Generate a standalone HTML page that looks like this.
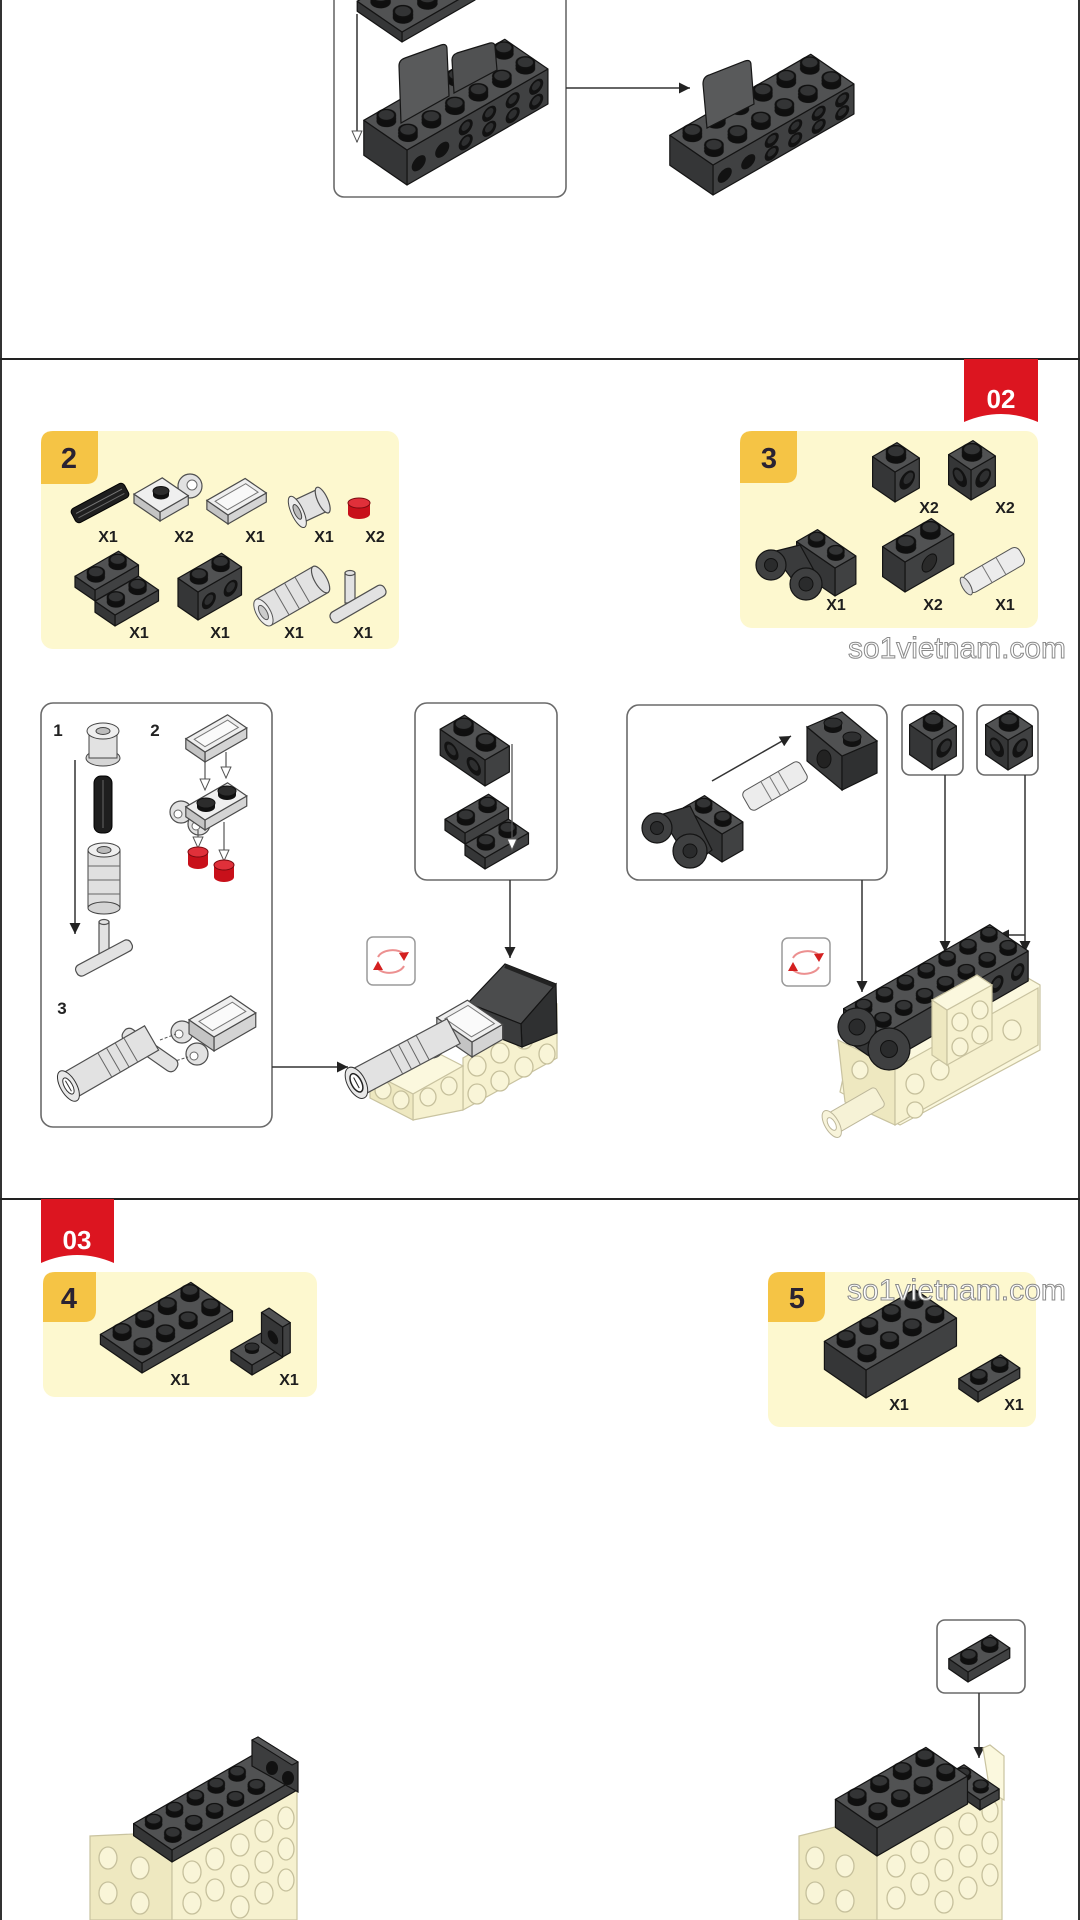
<!DOCTYPE html>
<html><head><meta charset="utf-8">
<style>
html,body{margin:0;padding:0;background:#fff;}
body{width:1080px;height:1920px;overflow:hidden;}
svg{display:block;}
rect,polygon,path,ellipse,line,circle,polyline{vector-effect:non-scaling-stroke;}
pattern *{vector-effect:none;}
.dT{fill:#515253;stroke:#141414;stroke-width:1.2;stroke-linejoin:round}
.dR{fill:#404142;stroke:#141414;stroke-width:1.2;stroke-linejoin:round}
.dL{fill:#353637;stroke:#141414;stroke-width:1.2;stroke-linejoin:round}
.gT{fill:#efefef;stroke:#4a4a4a;stroke-width:1.2}
.gR{fill:#d4d4d4;stroke:#4a4a4a;stroke-width:1.2}
.gL{fill:#c4c4c4;stroke:#4a4a4a;stroke-width:1.2}
.cT{fill:#fbf8de;stroke:#c9c3a0;stroke-width:1.2}
.cR{fill:#f6f1cf;stroke:#c9c3a0;stroke-width:1.2}
.cL{fill:#eee8c0;stroke:#c9c3a0;stroke-width:1.2}
.cs{fill:#f9f5d8;stroke:#c6c09c;stroke-width:1.3}
.box{fill:none;stroke:#6a6a6a;stroke-width:1.6}
.ln{stroke:#333;stroke-width:1.5;fill:none}
.lb{font-family:"Liberation Sans",sans-serif;font-weight:bold;font-size:16px;fill:#1e1e1e}
.num{font-family:"Liberation Sans",sans-serif;font-weight:bold;font-size:29px;fill:#2a2232}
.tab{font-family:"Liberation Sans",sans-serif;font-weight:bold;font-size:26px;fill:#fff}
.sn{font-family:"Liberation Sans",sans-serif;font-weight:bold;font-size:17px;fill:#222}
.wm{font-family:"Liberation Sans",sans-serif;font-size:30px;fill:#fff;stroke:#8a8a8a;stroke-width:1}
.ss{fill:#121212}
.si{fill:#2e2f30}
.gp{fill:#e2e2e2;stroke:#4f4f4f;stroke-width:1.2}
</style></head>
<body>
<svg width="1080" height="1920" viewBox="0 0 1080 1920" xmlns="http://www.w3.org/2000/svg">
<defs>
<pattern id="pS" patternUnits="userSpaceOnUse" width="1" height="1"><circle cx=".5" cy=".5" r=".31" fill="#0f0f0f"/></pattern>
<pattern id="pT" patternUnits="userSpaceOnUse" width="1" height="1"><circle cx=".5" cy=".5" r=".31" fill="#101010"/><circle cx=".5" cy=".5" r=".24" fill="#333435"/></pattern>
<marker id="ad" viewBox="0 0 10 10" refX="10" refY="5" markerWidth="13" markerHeight="11" markerUnits="userSpaceOnUse" orient="auto"><path d="M0,0 L10,5 L0,10 z" fill="#222"/></marker>
<marker id="aw" viewBox="0 0 10 10" refX="10" refY="5" markerWidth="13" markerHeight="11" markerUnits="userSpaceOnUse" orient="auto"><path d="M0,0.5 L10,5 L0,9.5 z" fill="#fff" stroke="#555" stroke-width="1"/></marker>
</defs>

<!-- frame -->
<line x1="1" y1="0" x2="1" y2="1920" stroke="#333" stroke-width="2"/>
<line x1="1079" y1="0" x2="1079" y2="1920" stroke="#333" stroke-width="2"/>
<line x1="0" y1="359" x2="1080" y2="359" stroke="#222" stroke-width="2"/>
<line x1="0" y1="1199" x2="1080" y2="1199" stroke="#222" stroke-width="2"/>

<!-- ================= TOP SECTION ================= -->
<rect class="box" x="334" y="-10" width="232" height="207" rx="10"/>
<g transform="translate(402 32)">
<rect class="dR" width="3" height="10" transform="matrix(24.36 -14 0 1 0 0)"/>
<rect class="dL" width="2" height="10" transform="matrix(-22.4 -15.4 0 1 0 0)"/>
<g transform="matrix(24.36 -14 -22.4 -15.4 0 0)"><rect class="dT" width="3" height="2"/><rect width="3" height="2" fill="url(#pS)"/></g>
<g transform="translate(0 -3) matrix(24.36 -14 -22.4 -15.4 0 0)"><rect width="3" height="2" fill="url(#pS)"/></g>
<g transform="translate(0 -6) matrix(24.36 -14 -22.4 -15.4 0 0)"><rect width="3" height="2" fill="url(#pT)"/></g>
</g>
<g transform="translate(407 150)">
<rect class="dR" width="6" height="35" transform="matrix(23.49 -13.5 0 1 0 0)"/>
<rect class="dL" width="2" height="35" transform="matrix(-21.6 -14.85 0 1 0 0)"/>
<g transform="matrix(23.49 -13.5 0 1 0 0)">
<ellipse class="ss" cx="2.5" cy="11" rx=".3" ry="7"/><ellipse class="ss" cx="3.5" cy="11" rx=".3" ry="7"/><ellipse class="ss" cx="4.5" cy="11" rx=".3" ry="7"/><ellipse class="ss" cx="5.5" cy="11" rx=".3" ry="7"/>
<ellipse class="ss" cx="2.5" cy="26" rx=".3" ry="7"/><ellipse class="ss" cx="3.5" cy="26" rx=".3" ry="7"/><ellipse class="ss" cx="4.5" cy="26" rx=".3" ry="7"/><ellipse class="ss" cx="5.5" cy="26" rx=".3" ry="7"/>
<ellipse class="ss" cx=".5" cy="20" rx=".3" ry="7"/><ellipse class="ss" cx="1.5" cy="20" rx=".3" ry="7"/>
<ellipse class="si" cx="2.5" cy="10" rx=".18" ry="4"/><ellipse class="si" cx="3.5" cy="10" rx=".18" ry="4"/><ellipse class="si" cx="4.5" cy="10" rx=".18" ry="4"/><ellipse class="si" cx="5.5" cy="10" rx=".18" ry="4"/>
<ellipse class="si" cx="2.5" cy="25" rx=".18" ry="4"/><ellipse class="si" cx="3.5" cy="25" rx=".18" ry="4"/><ellipse class="si" cx="4.5" cy="25" rx=".18" ry="4"/><ellipse class="si" cx="5.5" cy="25" rx=".18" ry="4"/>
</g>
<g transform="matrix(23.49 -13.5 -21.6 -14.85 0 0)"><rect class="dT" width="6" height="2"/><rect width="6" height="2" fill="url(#pS)"/></g>
<g transform="translate(0 -3) matrix(23.49 -13.5 -21.6 -14.85 0 0)"><rect width="6" height="2" fill="url(#pS)"/></g>
<g transform="translate(0 -6) matrix(23.49 -13.5 -21.6 -14.85 0 0)"><rect width="6" height="2" fill="url(#pT)"/></g>
</g>
<path d="M399,66 Q399,60 405,58 L441,45 Q447,43 447,49 L449,96 L401,123 Z" fill="#595a5b" stroke="#161616" stroke-width="1.2"/>
<path d="M452,60 Q452,55 457,53 L490,43 Q495,42 495,47 L497,70 L454,93 Z" fill="#505152" stroke="#161616" stroke-width="1.2"/>
<line class="ln" x1="357" y1="14" x2="357" y2="142" marker-end="url(#aw)"/>

<line class="ln" x1="566" y1="88" x2="690" y2="88" marker-end="url(#ad)"/>
<g transform="translate(713 165)">
<rect class="dR" width="6" height="30" transform="matrix(23.49 -13.5 0 1 0 0)"/>
<rect class="dL" width="2" height="30" transform="matrix(-21.6 -14.85 0 1 0 0)"/>
<g transform="matrix(23.49 -13.5 0 1 0 0)">
<ellipse class="ss" cx="2.5" cy="9" rx=".3" ry="6.5"/><ellipse class="ss" cx="3.5" cy="9" rx=".3" ry="6.5"/><ellipse class="ss" cx="4.5" cy="9" rx=".3" ry="6.5"/><ellipse class="ss" cx="5.5" cy="9" rx=".3" ry="6.5"/>
<ellipse class="ss" cx="2.5" cy="22" rx=".3" ry="6.5"/><ellipse class="ss" cx="3.5" cy="22" rx=".3" ry="6.5"/><ellipse class="ss" cx="4.5" cy="22" rx=".3" ry="6.5"/><ellipse class="ss" cx="5.5" cy="22" rx=".3" ry="6.5"/>
<ellipse class="ss" cx=".5" cy="17" rx=".3" ry="6.5"/><ellipse class="ss" cx="1.5" cy="17" rx=".3" ry="6.5"/>
<ellipse class="si" cx="2.5" cy="8" rx=".18" ry="3.5"/><ellipse class="si" cx="3.5" cy="8" rx=".18" ry="3.5"/><ellipse class="si" cx="4.5" cy="8" rx=".18" ry="3.5"/><ellipse class="si" cx="5.5" cy="8" rx=".18" ry="3.5"/>
<ellipse class="si" cx="2.5" cy="21" rx=".18" ry="3.5"/><ellipse class="si" cx="3.5" cy="21" rx=".18" ry="3.5"/><ellipse class="si" cx="4.5" cy="21" rx=".18" ry="3.5"/><ellipse class="si" cx="5.5" cy="21" rx=".18" ry="3.5"/>
</g>
<g transform="matrix(23.49 -13.5 -21.6 -14.85 0 0)"><rect class="dT" width="6" height="2"/><rect width="6" height="2" fill="url(#pS)"/></g>
<g transform="translate(0 -3) matrix(23.49 -13.5 -21.6 -14.85 0 0)"><rect width="6" height="2" fill="url(#pS)"/></g>
<g transform="translate(0 -6) matrix(23.49 -13.5 -21.6 -14.85 0 0)"><rect width="6" height="2" fill="url(#pT)"/></g>
</g>
<path d="M703,84 Q703,77 709,75 L745,61 Q751,59 751,65 L754,104 L707,128 Z" fill="#595a5b" stroke="#161616" stroke-width="1.2"/>

<!-- ================= MIDDLE SECTION ================= -->
<path d="M964,359 H1038 V422 Q1001,406 964,422 Z" fill="#dc1520"/>
<text class="tab" x="1001" y="408" text-anchor="middle">02</text>

<rect x="41" y="431" width="358" height="218" rx="12" fill="#fdf8cf"/>
<path d="M41,443 Q41,431 53,431 H98 V472 Q98,484 86,484 H41 Z" fill="#f5c445"/>
<text class="num" x="69" y="468" text-anchor="middle">2</text>
<g transform="translate(100 503) rotate(-28)"><rect x="-30" y="-8" width="60" height="16" rx="4" fill="#1f1f1f" stroke="#000"/><line x1="-26" y1="-2" x2="26" y2="-2" stroke="#777" stroke-width="1"/><line x1="-26" y1="3" x2="26" y2="3" stroke="#666" stroke-width="1"/></g>
<circle cx="190" cy="486" r="12" class="gp"/><circle cx="192" cy="485" r="5" fill="#fff" stroke="#666"/>
<g transform="translate(160 512)">
<rect class="gR" width="1.3" height="9" transform="matrix(21.75 -12.5 0 1 0 0)"/>
<rect class="gL" width="1.3" height="9" transform="matrix(-20 -13.75 0 1 0 0)"/>
<rect class="gT" width="1.3" height="1.3" transform="matrix(21.75 -12.5 -20 -13.75 0 0)"/>
</g>
<ellipse cx="161" cy="495" rx="8" ry="4.5" fill="#111"/><rect x="153" y="491" width="16" height="4" fill="#111"/><ellipse cx="161" cy="491" rx="8" ry="4.5" fill="#2c2c2c" stroke="#111"/>
<g transform="translate(228 515)">
<rect class="gR" width="2" height="9" transform="matrix(19.14 -11 0 1 0 0)"/>
<rect class="gL" width="1.2" height="9" transform="matrix(-17.6 -12.1 0 1 0 0)"/>
<g transform="matrix(19.14 -11 -17.6 -12.1 0 0)"><rect class="gT" width="2" height="1.2"/><rect x=".2" y=".25" width="1.6" height=".7" fill="#f8f8f8" stroke="#777" stroke-width="1"/></g>
</g>
<g transform="translate(310 506) rotate(-25)"><rect x="-14" y="-12" width="28" height="24" class="gp"/><ellipse cx="14" cy="0" rx="5" ry="14" class="gp"/><ellipse cx="-14" cy="0" rx="6" ry="17" fill="#ececec" stroke="#444"/><ellipse cx="-14" cy="0" rx="3" ry="8" fill="#bbb" stroke="#444"/></g>
<rect x="348" y="503" width="22" height="11" fill="#c8101a"/><ellipse cx="359" cy="514" rx="11" ry="5" fill="#c8101a"/><ellipse cx="359" cy="503" rx="11" ry="5" fill="#e0303a" stroke="#7a0a10"/>
<g transform="translate(95 590)">
<rect class="dR" width="2" height="11" transform="matrix(21.75 -12.5 0 1 0 0)"/>
<rect class="dL" width="1" height="11" transform="matrix(-20 -13.75 0 1 0 0)"/>
<g transform="matrix(21.75 -12.5 -20 -13.75 0 0)"><rect class="dT" width="2" height="1"/><rect width="2" height="1" fill="url(#pS)"/></g>
<g transform="translate(0 -3) matrix(21.75 -12.5 -20 -13.75 0 0)"><rect width="2" height="1" fill="url(#pS)"/></g>
<g transform="translate(0 -5) matrix(21.75 -12.5 -20 -13.75 0 0)"><rect width="2" height="1" fill="url(#pT)"/></g>
</g>
<g transform="translate(115 615)">
<rect class="dR" width="2" height="11" transform="matrix(21.75 -12.5 0 1 0 0)"/>
<rect class="dL" width="1" height="11" transform="matrix(-20 -13.75 0 1 0 0)"/>
<g transform="matrix(21.75 -12.5 -20 -13.75 0 0)"><rect class="dT" width="2" height="1"/><rect width="2" height="1" fill="url(#pS)"/></g>
<g transform="translate(0 -3) matrix(21.75 -12.5 -20 -13.75 0 0)"><rect width="2" height="1" fill="url(#pS)"/></g>
<g transform="translate(0 -5) matrix(21.75 -12.5 -20 -13.75 0 0)"><rect width="2" height="1" fill="url(#pT)"/></g>
</g>
<g transform="translate(198 592)">
<rect class="dR" width="2" height="28" transform="matrix(21.75 -12.5 0 1 0 0)"/>
<rect class="dL" width="1" height="28" transform="matrix(-20 -13.75 0 1 0 0)"/>
<g transform="matrix(21.75 -12.5 0 1 0 0)"><ellipse class="ss" cx=".5" cy="15" rx=".32" ry="7.5"/><ellipse class="ss" cx="1.5" cy="15" rx=".32" ry="7.5"/><ellipse class="si" cx=".5" cy="14" rx=".2" ry="4.5"/><ellipse class="si" cx="1.5" cy="14" rx=".2" ry="4.5"/></g>
<g transform="matrix(21.75 -12.5 -20 -13.75 0 0)"><rect class="dT" width="2" height="1"/><rect width="2" height="1" fill="url(#pS)"/></g>
<g transform="translate(0 -3) matrix(21.75 -12.5 -20 -13.75 0 0)"><rect width="2" height="1" fill="url(#pS)"/></g>
<g transform="translate(0 -5) matrix(21.75 -12.5 -20 -13.75 0 0)"><rect width="2" height="1" fill="url(#pT)"/></g>
</g>
<g transform="translate(292 596) rotate(-30)"><rect x="-33" y="-15" width="66" height="30" class="gp"/><line x1="-12" y1="-15" x2="-12" y2="15" stroke="#666"/><line x1="0" y1="-15" x2="0" y2="15" stroke="#666"/><line x1="12" y1="-15" x2="12" y2="15" stroke="#666"/><ellipse cx="33" cy="0" rx="6" ry="15" class="gp"/><ellipse cx="-33" cy="0" rx="7" ry="15" fill="#eee" stroke="#555"/><ellipse cx="-33" cy="0" rx="3.5" ry="8" fill="#ccc" stroke="#555"/></g>
<rect x="345" y="573" width="10" height="30" class="gp"/><ellipse cx="350" cy="573" rx="5" ry="2.5" class="gp"/>
<g transform="translate(358 604) rotate(-30)"><rect x="-31" y="-6" width="62" height="12" rx="5" class="gp"/></g>
<text class="lb" x="108" y="542" text-anchor="middle">X1</text>
<text class="lb" x="184" y="542" text-anchor="middle">X2</text>
<text class="lb" x="255" y="542" text-anchor="middle">X1</text>
<text class="lb" x="324" y="542" text-anchor="middle">X1</text>
<text class="lb" x="375" y="542" text-anchor="middle">X2</text>
<text class="lb" x="139" y="638" text-anchor="middle">X1</text>
<text class="lb" x="220" y="638" text-anchor="middle">X1</text>
<text class="lb" x="294" y="638" text-anchor="middle">X1</text>
<text class="lb" x="363" y="638" text-anchor="middle">X1</text>

<rect x="740" y="431" width="298" height="197" rx="12" fill="#fdf8cf"/>
<path d="M740,443 Q740,431 752,431 H797 V471 Q797,483 785,483 H740 Z" fill="#f5c445"/>
<text class="num" x="769" y="468" text-anchor="middle">3</text>
<g transform="translate(895 472)">
<rect class="dR" width="1" height="30" transform="matrix(24.36 -14 0 1 0 0)"/>
<rect class="dL" width="1" height="30" transform="matrix(-22.4 -15.4 0 1 0 0)"/>
<g transform="matrix(24.36 -14 0 1 0 0)"><ellipse class="ss" cx=".5" cy="15" rx=".32" ry="8.5"/><ellipse class="si" cx=".55" cy="14" rx=".2" ry="5"/></g>
<g transform="matrix(24.36 -14 -22.4 -15.4 0 0)"><rect class="dT" width="1" height="1"/><rect width="1" height="1" fill="url(#pS)"/></g>
<g transform="translate(0 -3) matrix(24.36 -14 -22.4 -15.4 0 0)"><rect width="1" height="1" fill="url(#pS)"/></g>
<g transform="translate(0 -6) matrix(24.36 -14 -22.4 -15.4 0 0)"><rect width="1" height="1" fill="url(#pT)"/></g>
</g>
<g transform="translate(971 470)">
<rect class="dR" width="1" height="30" transform="matrix(24.36 -14 0 1 0 0)"/>
<rect class="dL" width="1" height="30" transform="matrix(-22.4 -15.4 0 1 0 0)"/>
<g transform="matrix(24.36 -14 0 1 0 0)"><ellipse class="ss" cx=".5" cy="15" rx=".32" ry="8.5"/><ellipse class="si" cx=".55" cy="14" rx=".2" ry="5"/></g>
<g transform="matrix(-22.4 -15.4 0 1 0 0)"><ellipse class="ss" cx=".5" cy="15" rx=".32" ry="8.5"/><ellipse class="si" cx=".55" cy="14" rx=".2" ry="5"/></g>
<g transform="matrix(24.36 -14 -22.4 -15.4 0 0)"><rect class="dT" width="1" height="1"/><rect width="1" height="1" fill="url(#pS)"/></g>
<g transform="translate(0 -3) matrix(24.36 -14 -22.4 -15.4 0 0)"><rect width="1" height="1" fill="url(#pS)"/></g>
<g transform="translate(0 -6) matrix(24.36 -14 -22.4 -15.4 0 0)"><rect width="1" height="1" fill="url(#pT)"/></g>
</g>
<g transform="translate(835 568)">
<rect class="dR" width="1" height="28" transform="matrix(20.88 -12 0 1 0 0)"/>
<rect class="dL" width="2" height="28" transform="matrix(-19.2 -13.2 0 1 0 0)"/>
<g transform="matrix(20.88 -12 -19.2 -13.2 0 0)"><rect class="dT" width="1" height="2"/><rect width="1" height="2" fill="url(#pS)"/></g>
<g transform="translate(0 -3) matrix(20.88 -12 -19.2 -13.2 0 0)"><rect width="1" height="2" fill="url(#pS)"/></g>
<g transform="translate(0 -5) matrix(20.88 -12 -19.2 -13.2 0 0)"><rect width="1" height="2" fill="url(#pT)"/></g>
</g>
<polygon points="772,552 800,545 822,585 806,598" fill="#3a3b3c" stroke="#141414" stroke-width="1.2"/>
<circle cx="771" cy="565" r="15" fill="#3f4041" stroke="#141414" stroke-width="1.2"/><circle cx="771" cy="565" r="6.5" fill="#2a2b2c" stroke="#111"/>
<circle cx="806" cy="584" r="16" fill="#3f4041" stroke="#141414" stroke-width="1.2"/><circle cx="806" cy="584" r="7" fill="#2a2b2c" stroke="#111"/>
<g transform="translate(905 562)">
<rect class="dR" width="2" height="30" transform="matrix(24.36 -14 0 1 0 0)"/>
<rect class="dL" width="1" height="30" transform="matrix(-22.4 -15.4 0 1 0 0)"/>
<g transform="matrix(24.36 -14 0 1 0 0)"><ellipse cx="1" cy="15" rx=".3" ry="8" fill="#2a2a2a" stroke="#111" stroke-width="1"/></g>
<g transform="matrix(24.36 -14 -22.4 -15.4 0 0)"><rect class="dT" width="2" height="1"/><rect width="2" height="1" fill="url(#pS)"/></g>
<g transform="translate(0 -3) matrix(24.36 -14 -22.4 -15.4 0 0)"><rect width="2" height="1" fill="url(#pS)"/></g>
<g transform="translate(0 -6) matrix(24.36 -14 -22.4 -15.4 0 0)"><rect width="2" height="1" fill="url(#pT)"/></g>
</g>
<g transform="translate(994 570) rotate(-30)"><rect x="-32" y="-10" width="64" height="20" rx="6" fill="#ececec" stroke="#555"/><line x1="-8" y1="-10" x2="-8" y2="10" stroke="#777"/><line x1="8" y1="-10" x2="8" y2="10" stroke="#777"/><ellipse cx="-32" cy="0" rx="4" ry="10" fill="#e0e0e0" stroke="#555"/></g>
<text class="lb" x="929" y="513" text-anchor="middle">X2</text>
<text class="lb" x="1005" y="513" text-anchor="middle">X2</text>
<text class="lb" x="836" y="610" text-anchor="middle">X1</text>
<text class="lb" x="933" y="610" text-anchor="middle">X2</text>
<text class="lb" x="1005" y="610" text-anchor="middle">X1</text>

<text class="wm" x="848" y="658" textLength="218" lengthAdjust="spacingAndGlyphs">so1vietnam.com</text>

<!-- left sub-box -->
<rect class="box" x="41" y="703" width="231" height="424" rx="12"/>
<text class="sn" x="58" y="736" text-anchor="middle">1</text>
<text class="sn" x="155" y="736" text-anchor="middle">2</text>
<text class="sn" x="62" y="1014" text-anchor="middle">3</text>
<ellipse cx="103" cy="758" rx="17" ry="8" fill="#d6d6d6" stroke="#444"/>
<rect x="89" y="731" width="28" height="27" fill="#e2e2e2" stroke="#444"/>
<ellipse cx="103" cy="731" rx="16" ry="8" fill="#efefef" stroke="#444"/>
<ellipse cx="103" cy="731" rx="7" ry="3.5" fill="#bdbdbd" stroke="#444"/>
<rect x="94" y="776" width="18" height="57" rx="7" fill="#1e1e1e" stroke="#000"/>
<line x1="103" y1="780" x2="103" y2="828" stroke="#666"/>
<rect x="88" y="850" width="32" height="58" fill="#e0e0e0" stroke="#444"/>
<line x1="88" y1="866" x2="120" y2="866" stroke="#666"/><line x1="88" y1="880" x2="120" y2="880" stroke="#666"/><line x1="88" y1="894" x2="120" y2="894" stroke="#666"/>
<ellipse cx="104" cy="908" rx="16" ry="6" fill="#d4d4d4" stroke="#444"/>
<ellipse cx="104" cy="850" rx="16" ry="7" fill="#efefef" stroke="#444"/>
<ellipse cx="104" cy="850" rx="7" ry="3.5" fill="#bbb" stroke="#444"/>
<line class="ln" x1="75" y1="760" x2="75" y2="934" marker-end="url(#ad)"/>
<rect x="99" y="922" width="10" height="34" class="gp"/><ellipse cx="104" cy="922" rx="5" ry="2.5" class="gp"/>
<g transform="translate(104 958) rotate(-28)"><rect x="-31" y="-6" width="62" height="12" rx="5" class="gp"/></g>
<line x1="205" y1="760" x2="205" y2="790" stroke="#555" stroke-width="1.2" marker-end="url(#aw)"/>
<line x1="226" y1="752" x2="226" y2="778" stroke="#555" stroke-width="1.2" marker-end="url(#aw)"/>
<g transform="translate(205 752)">
<rect class="gR" width="2" height="10" transform="matrix(20.88 -12 0 1 0 0)"/>
<rect class="gL" width="1" height="10" transform="matrix(-19.2 -13.2 0 1 0 0)"/>
<g transform="matrix(20.88 -12 -19.2 -13.2 0 0)"><rect class="gT" width="2" height="1"/><rect x=".2" y=".22" width="1.6" height=".56" fill="#fafafa" stroke="#777" stroke-width="1"/></g>
</g>
<circle cx="181" cy="812" r="11" class="gp"/><circle cx="178" cy="814" r="4" fill="#fff" stroke="#666"/>
<circle cx="199" cy="824" r="11" class="gp"/><circle cx="196" cy="826" r="4" fill="#fff" stroke="#666"/>
<g transform="translate(205 820)">
<rect class="gR" width="2" height="10" transform="matrix(20.88 -12 0 1 0 0)"/>
<rect class="gL" width="1" height="10" transform="matrix(-19.2 -13.2 0 1 0 0)"/>
<rect class="gT" width="2" height="1" transform="matrix(20.88 -12 -19.2 -13.2 0 0)"/>
</g>
<ellipse cx="206" cy="807" rx="9" ry="5" fill="#111"/><rect x="197" y="803" width="18" height="4" fill="#111"/><ellipse cx="206" cy="803" rx="9" ry="5" fill="#2c2c2c" stroke="#111"/>
<ellipse cx="227" cy="795" rx="9" ry="5" fill="#111"/><rect x="218" y="791" width="18" height="4" fill="#111"/><ellipse cx="227" cy="791" rx="9" ry="5" fill="#2c2c2c" stroke="#111"/>
<line x1="198" y1="830" x2="198" y2="848" stroke="#555" stroke-width="1.2" marker-end="url(#aw)"/>
<line x1="224" y1="822" x2="224" y2="861" stroke="#555" stroke-width="1.2" marker-end="url(#aw)"/>
<rect x="188" y="852" width="20" height="12" fill="#c8101a"/><ellipse cx="198" cy="864" rx="10" ry="5" fill="#c8101a"/><ellipse cx="198" cy="852" rx="10" ry="5" fill="#e0303a" stroke="#7a0a10"/>
<rect x="214" y="865" width="20" height="12" fill="#c8101a"/><ellipse cx="224" cy="877" rx="10" ry="5" fill="#c8101a"/><ellipse cx="224" cy="865" rx="10" ry="5" fill="#e0303a" stroke="#7a0a10"/>
<circle cx="182" cy="1032" r="11" class="gp"/><circle cx="179" cy="1034" r="4" fill="#fff" stroke="#666"/>
<circle cx="197" cy="1054" r="11" class="gp"/><circle cx="194" cy="1056" r="4" fill="#fff" stroke="#666"/>
<g transform="translate(214 1037)">
<rect class="gR" width="2" height="14" transform="matrix(20.88 -12 0 1 0 0)"/>
<rect class="gL" width="1.3" height="14" transform="matrix(-19.2 -13.2 0 1 0 0)"/>
<g transform="matrix(20.88 -12 -19.2 -13.2 0 0)"><rect class="gT" width="2" height="1.3"/><rect x=".2" y=".3" width="1.6" height=".7" fill="#fafafa" stroke="#777" stroke-width="1"/></g>
</g>
<line x1="160" y1="1040" x2="176" y2="1034" stroke="#555" stroke-width="1" stroke-dasharray="3,2"/>
<line x1="172" y1="1062" x2="188" y2="1057" stroke="#555" stroke-width="1" stroke-dasharray="3,2"/>
<g transform="translate(150 1050) rotate(35)"><rect x="-32" y="-7" width="64" height="14" rx="6" class="gp"/></g>
<g transform="translate(110 1062) rotate(-30)"><rect x="-48" y="-14" width="96" height="28" class="gp"/><line x1="-6" y1="-14" x2="-6" y2="14" stroke="#666"/><line x1="4" y1="-14" x2="4" y2="14" stroke="#666"/><line x1="14" y1="-14" x2="14" y2="14" stroke="#666"/><line x1="24" y1="-14" x2="24" y2="14" stroke="#666"/><ellipse cx="-48" cy="0" rx="8" ry="17" fill="#e8e8e8" stroke="#333"/><ellipse cx="-48" cy="0" rx="4" ry="9" fill="#fff" stroke="#333"/><line x1="-48" y1="-6" x2="-48" y2="6" stroke="#333"/></g>
<line class="ln" x1="272" y1="1067" x2="348" y2="1067" marker-end="url(#ad)"/>

<!-- upper middle box -->
<rect class="box" x="415" y="703" width="142" height="177" rx="12"/>
<g transform="translate(485 760)">
<rect class="dR" width="1" height="26" transform="matrix(24.36 -14 0 1 0 0)"/>
<rect class="dL" width="2" height="26" transform="matrix(-22.4 -15.4 0 1 0 0)"/>
<g transform="matrix(-22.4 -15.4 0 1 0 0)"><ellipse class="ss" cx=".5" cy="14" rx=".32" ry="8"/><ellipse class="ss" cx="1.5" cy="14" rx=".32" ry="8"/><ellipse class="si" cx=".5" cy="13" rx=".2" ry="4.5"/><ellipse class="si" cx="1.5" cy="13" rx=".2" ry="4.5"/></g>
<g transform="matrix(24.36 -14 -22.4 -15.4 0 0)"><rect class="dT" width="1" height="2"/><rect width="1" height="2" fill="url(#pS)"/></g>
<g transform="translate(0 -3) matrix(24.36 -14 -22.4 -15.4 0 0)"><rect width="1" height="2" fill="url(#pS)"/></g>
<g transform="translate(0 -6) matrix(24.36 -14 -22.4 -15.4 0 0)"><rect width="1" height="2" fill="url(#pT)"/></g>
</g>
<g transform="translate(465 833)">
<rect class="dR" width="2" height="11" transform="matrix(21.75 -12.5 0 1 0 0)"/>
<rect class="dL" width="1" height="11" transform="matrix(-20 -13.75 0 1 0 0)"/>
<g transform="matrix(21.75 -12.5 -20 -13.75 0 0)"><rect class="dT" width="2" height="1"/><rect width="2" height="1" fill="url(#pS)"/></g>
<g transform="translate(0 -3) matrix(21.75 -12.5 -20 -13.75 0 0)"><rect width="2" height="1" fill="url(#pS)"/></g>
<g transform="translate(0 -5) matrix(21.75 -12.5 -20 -13.75 0 0)"><rect width="2" height="1" fill="url(#pT)"/></g>
</g>
<g transform="translate(485 858)">
<rect class="dR" width="2" height="11" transform="matrix(21.75 -12.5 0 1 0 0)"/>
<rect class="dL" width="1" height="11" transform="matrix(-20 -13.75 0 1 0 0)"/>
<g transform="matrix(21.75 -12.5 -20 -13.75 0 0)"><rect class="dT" width="2" height="1"/><rect width="2" height="1" fill="url(#pS)"/></g>
<g transform="translate(0 -3) matrix(21.75 -12.5 -20 -13.75 0 0)"><rect width="2" height="1" fill="url(#pS)"/></g>
<g transform="translate(0 -5) matrix(21.75 -12.5 -20 -13.75 0 0)"><rect width="2" height="1" fill="url(#pT)"/></g>
</g>
<line x1="512" y1="744" x2="512" y2="850" stroke="#555" stroke-width="1.3" marker-end="url(#aw)"/>
<line class="ln" x1="510" y1="880" x2="510" y2="958" marker-end="url(#ad)"/>

<g transform="translate(367 937)">
<rect x="0" y="0" width="48" height="48" rx="6" fill="#fff" stroke="#9a9a9a" stroke-width="1.5"/>
<path d="M11,20 A15,10 0 0 1 37,17" fill="none" stroke="#ec9090" stroke-width="2"/>
<polygon points="32,16 42,15 37,24" fill="#d42020"/>
<path d="M37,29 A15,10 0 0 1 11,32" fill="none" stroke="#ec9090" stroke-width="2"/>
<polygon points="6,33 16,33 11,24" fill="#d42020"/>
</g>

<!-- middle-left assembly -->
<polygon class="cR" points="463,1058 557,1004 557,1058 463,1110"/>
<ellipse class="cs" cx="477" cy="1066" rx="9" ry="10"/><ellipse class="cs" cx="500" cy="1053" rx="9" ry="10"/><ellipse class="cs" cx="524" cy="1039" rx="9" ry="10"/><ellipse class="cs" cx="547" cy="1026" rx="8" ry="10"/>
<ellipse class="cs" cx="477" cy="1094" rx="9" ry="10"/><ellipse class="cs" cx="500" cy="1081" rx="9" ry="10"/><ellipse class="cs" cx="524" cy="1067" rx="9" ry="10"/><ellipse class="cs" cx="547" cy="1054" rx="8" ry="10"/>
<polygon class="cT" points="370,1072 420,1044 463,1066 413,1094"/>
<polygon class="cR" points="413,1094 463,1066 463,1110 413,1120"/>
<polygon class="cL" points="370,1072 413,1094 413,1120 370,1098"/>
<ellipse class="cs" cx="383" cy="1090" rx="8" ry="9"/><ellipse class="cs" cx="401" cy="1100" rx="8" ry="9"/>
<ellipse class="cs" cx="428" cy="1097" rx="8" ry="9"/><ellipse class="cs" cx="449" cy="1086" rx="8" ry="9"/>
<polygon points="468,1003 505,964 556,984 521,1024" fill="#4b4c4d" stroke="#141414" stroke-width="1.2"/>
<polygon points="521,1024 556,984 557,1033 522,1047" fill="#2f3031" stroke="#141414" stroke-width="1.2"/>
<polygon points="468,1003 521,1024 522,1047 469,1026" fill="#3a3b3c" stroke="#141414" stroke-width="1.2"/>
<line x1="505" y1="966" x2="555" y2="986" stroke="#222" stroke-width="4"/>
<circle cx="432" cy="1046" r="12" class="gp"/>
<g transform="translate(472 1042)">
<rect class="gR" width="1.6" height="15" transform="matrix(19.14 -11 0 1 0 0)"/>
<rect class="gL" width="2" height="15" transform="matrix(-17.6 -12.1 0 1 0 0)"/>
<g transform="matrix(19.14 -11 -17.6 -12.1 0 0)"><rect class="gT" width="1.6" height="2"/><rect x=".2" y=".25" width="1.2" height="1.5" fill="#fafafa" stroke="#777" stroke-width="1"/></g>
</g>
<g transform="translate(405 1057) rotate(-28)"><rect x="-55" y="-14" width="110" height="28" class="gp"/><line x1="-10" y1="-14" x2="-10" y2="14" stroke="#666"/><line x1="0" y1="-14" x2="0" y2="14" stroke="#666"/><line x1="10" y1="-14" x2="10" y2="14" stroke="#666"/><line x1="20" y1="-14" x2="20" y2="14" stroke="#666"/><ellipse cx="-55" cy="0" rx="9" ry="17" fill="#e8e8e8" stroke="#333"/><ellipse cx="-55" cy="0" rx="5" ry="10" fill="#fff" stroke="#222" stroke-width="1.5"/><line x1="-55" y1="-6" x2="-55" y2="6" stroke="#222"/></g>

<!-- right sub-box -->
<rect class="box" x="627" y="705" width="260" height="175" rx="12"/>
<g transform="translate(722 834)">
<rect class="dR" width="1" height="28" transform="matrix(20.88 -12 0 1 0 0)"/>
<rect class="dL" width="2" height="28" transform="matrix(-19.2 -13.2 0 1 0 0)"/>
<g transform="matrix(20.88 -12 -19.2 -13.2 0 0)"><rect class="dT" width="1" height="2"/><rect width="1" height="2" fill="url(#pS)"/></g>
<g transform="translate(0 -3) matrix(20.88 -12 -19.2 -13.2 0 0)"><rect width="1" height="2" fill="url(#pS)"/></g>
<g transform="translate(0 -5) matrix(20.88 -12 -19.2 -13.2 0 0)"><rect width="1" height="2" fill="url(#pT)"/></g>
</g>
<polygon points="660,815 690,806 712,850 692,866" fill="#3a3b3c" stroke="#141414" stroke-width="1.2"/>
<circle cx="657" cy="828" r="15" fill="#3f4041" stroke="#141414" stroke-width="1.2"/><circle cx="657" cy="828" r="6.5" fill="#2a2b2c" stroke="#111"/>
<circle cx="690" cy="851" r="17" fill="#3f4041" stroke="#141414" stroke-width="1.2"/><circle cx="690" cy="851" r="7" fill="#2a2b2c" stroke="#111"/>
<g transform="translate(775 786) rotate(-30)"><rect x="-33" y="-11" width="66" height="22" rx="5" fill="#ececec" stroke="#555"/><line x1="-10" y1="-11" x2="-10" y2="11" stroke="#777"/><line x1="0" y1="-11" x2="0" y2="11" stroke="#777"/><line x1="10" y1="-11" x2="10" y2="11" stroke="#777"/></g>
<line class="ln" x1="712" y1="781" x2="791" y2="736" marker-end="url(#ad)"/>
<polygon points="807,727 842,756 842,790 807,761" fill="#3a3b3c" stroke="#141414" stroke-width="1.2"/>
<polygon points="842,756 877,741 877,773 842,790" fill="#2f3031" stroke="#141414" stroke-width="1.2"/>
<polygon points="807,727 842,712 877,741 842,756" fill="#505152" stroke="#141414" stroke-width="1.2"/>
<ellipse cx="824" cy="759" rx="7" ry="9" fill="#222" stroke="#111"/>
<ellipse cx="833" cy="728" rx="9" ry="5" fill="#111"/><rect x="824" y="723" width="18" height="5" fill="#111"/><ellipse cx="833" cy="723" rx="9" ry="5" fill="#2e2f30" stroke="#111"/>
<ellipse cx="852" cy="742" rx="9" ry="5" fill="#111"/><rect x="843" y="737" width="18" height="5" fill="#111"/><ellipse cx="852" cy="737" rx="9" ry="5" fill="#2e2f30" stroke="#111"/>

<rect class="box" x="902" y="705" width="61" height="70" rx="8"/>
<g transform="translate(932 740)">
<rect class="dR" width="1" height="30" transform="matrix(24.36 -14 0 1 0 0)"/>
<rect class="dL" width="1" height="30" transform="matrix(-22.4 -15.4 0 1 0 0)"/>
<g transform="matrix(24.36 -14 0 1 0 0)"><ellipse class="ss" cx=".5" cy="15" rx=".32" ry="8.5"/><ellipse class="si" cx=".55" cy="14" rx=".2" ry="5"/></g>
<g transform="matrix(24.36 -14 -22.4 -15.4 0 0)"><rect class="dT" width="1" height="1"/><rect width="1" height="1" fill="url(#pS)"/></g>
<g transform="translate(0 -3) matrix(24.36 -14 -22.4 -15.4 0 0)"><rect width="1" height="1" fill="url(#pS)"/></g>
<g transform="translate(0 -6) matrix(24.36 -14 -22.4 -15.4 0 0)"><rect width="1" height="1" fill="url(#pT)"/></g>
</g>
<rect class="box" x="977" y="705" width="61" height="70" rx="8"/>
<g transform="translate(1008 740)">
<rect class="dR" width="1" height="30" transform="matrix(24.36 -14 0 1 0 0)"/>
<rect class="dL" width="1" height="30" transform="matrix(-22.4 -15.4 0 1 0 0)"/>
<g transform="matrix(24.36 -14 0 1 0 0)"><ellipse class="ss" cx=".5" cy="15" rx=".32" ry="8.5"/><ellipse class="si" cx=".55" cy="14" rx=".2" ry="5"/></g>
<g transform="matrix(-22.4 -15.4 0 1 0 0)"><ellipse class="ss" cx=".5" cy="15" rx=".32" ry="8.5"/><ellipse class="si" cx=".55" cy="14" rx=".2" ry="5"/></g>
<g transform="matrix(24.36 -14 -22.4 -15.4 0 0)"><rect class="dT" width="1" height="1"/><rect width="1" height="1" fill="url(#pS)"/></g>
<g transform="translate(0 -3) matrix(24.36 -14 -22.4 -15.4 0 0)"><rect width="1" height="1" fill="url(#pS)"/></g>
<g transform="translate(0 -6) matrix(24.36 -14 -22.4 -15.4 0 0)"><rect width="1" height="1" fill="url(#pT)"/></g>
</g>
<line class="ln" x1="862" y1="880" x2="862" y2="992" marker-end="url(#ad)"/>
<line class="ln" x1="945" y1="775" x2="945" y2="952" marker-end="url(#ad)"/>
<line class="ln" x1="1025" y1="775" x2="1025" y2="952" marker-end="url(#ad)"/>
<line class="ln" x1="1025" y1="935" x2="998" y2="935" marker-end="url(#ad)"/>

<g transform="translate(782 938)">
<rect x="0" y="0" width="48" height="48" rx="6" fill="#fff" stroke="#9a9a9a" stroke-width="1.5"/>
<path d="M11,20 A15,10 0 0 1 37,17" fill="none" stroke="#ec9090" stroke-width="2"/>
<polygon points="32,16 42,15 37,24" fill="#d42020"/>
<path d="M37,29 A15,10 0 0 1 11,32" fill="none" stroke="#ec9090" stroke-width="2"/>
<polygon points="6,33 16,33 11,24" fill="#d42020"/>
</g>

<!-- right assembly -->
<polygon class="cT" points="860,1000 945,955 1000,962 1040,985 1040,1050 900,1125 840,1092"/>
<polygon class="cL" points="838,1040 895,1068 895,1125 845,1102"/>
<polygon class="cR" points="895,1068 1038,988 1038,1045 895,1125"/>
<ellipse class="cs" cx="915" cy="1084" rx="9" ry="10"/><ellipse class="cs" cx="940" cy="1070" rx="9" ry="10"/><ellipse class="cs" cx="1012" cy="1030" rx="9" ry="10"/>
<ellipse class="cs" cx="915" cy="1110" rx="8" ry="8"/><ellipse class="cs" cx="860" cy="1070" rx="8" ry="9"/>
<g transform="translate(856 1110) rotate(-30)"><rect x="-28" y="-11" width="56" height="22" rx="4" fill="#f6f2d6" stroke="#bdb79a"/><ellipse cx="-28" cy="0" rx="7" ry="15" fill="#f8f4da" stroke="#bdb79a"/><ellipse cx="-28" cy="0" rx="3.5" ry="7" fill="#fff" stroke="#bdb79a"/></g>
<g transform="translate(882 1035)">
<rect class="dR" width="7" height="30" transform="matrix(20.88 -12 0 1 0 0)"/>
<rect class="dL" width="2" height="30" transform="matrix(-19.2 -13.2 0 1 0 0)"/>
<g transform="matrix(20.88 -12 0 1 0 0)"><ellipse class="ss" cx="5.5" cy="15" rx=".32" ry="8"/><ellipse class="ss" cx="6.5" cy="15" rx=".32" ry="8"/><ellipse class="si" cx="5.5" cy="14" rx=".2" ry="4.5"/><ellipse class="si" cx="6.5" cy="14" rx=".2" ry="4.5"/></g>
<g transform="matrix(20.88 -12 -19.2 -13.2 0 0)"><rect class="dT" width="7" height="2"/><rect width="7" height="2" fill="url(#pS)"/></g>
<g transform="translate(0 -3) matrix(20.88 -12 -19.2 -13.2 0 0)"><rect width="7" height="2" fill="url(#pS)"/></g>
<g transform="translate(0 -5) matrix(20.88 -12 -19.2 -13.2 0 0)"><rect width="7" height="2" fill="url(#pT)"/></g>
</g>
<polygon class="cL" points="932,1000 947,1010 947,1065 932,1055"/>
<polygon class="cR" points="947,1010 992,985 992,1040 947,1065"/>
<polygon class="cT" points="932,1000 977,975 992,985 947,1010"/>
<ellipse class="cs" cx="960" cy="1022" rx="8" ry="9"/><ellipse class="cs" cx="980" cy="1010" rx="8" ry="9"/>
<ellipse class="cs" cx="960" cy="1047" rx="8" ry="9"/><ellipse class="cs" cx="980" cy="1035" rx="8" ry="9"/>
<circle cx="857" cy="1027" r="19" fill="#3f4041" stroke="#141414" stroke-width="1.2"/><circle cx="857" cy="1027" r="8" fill="#2a2b2c" stroke="#111"/>
<circle cx="889" cy="1049" r="21" fill="#3f4041" stroke="#141414" stroke-width="1.2"/><circle cx="889" cy="1049" r="8.5" fill="#2a2b2c" stroke="#111"/>

<!-- ================= BOTTOM SECTION ================= -->
<path d="M41,1199 H114 V1263 Q77,1247 41,1263 Z" fill="#dc1520"/>
<text class="tab" x="77" y="1249" text-anchor="middle">03</text>

<rect x="43" y="1272" width="274" height="125" rx="12" fill="#fdf8cf"/>
<path d="M43,1284 Q43,1272 55,1272 H96 V1310 Q96,1322 84,1322 H43 Z" fill="#f5c445"/>
<text class="num" x="69" y="1308" text-anchor="middle">4</text>
<g transform="translate(142 1363)">
<rect class="dR" width="4" height="10" transform="matrix(22.62 -13 0 1 0 0)"/>
<rect class="dL" width="2" height="10" transform="matrix(-20.8 -14.3 0 1 0 0)"/>
<g transform="matrix(22.62 -13 -20.8 -14.3 0 0)"><rect class="dT" width="4" height="2"/><rect width="4" height="2" fill="url(#pS)"/></g>
<g transform="translate(0 -3) matrix(22.62 -13 -20.8 -14.3 0 0)"><rect width="4" height="2" fill="url(#pS)"/></g>
<g transform="translate(0 -6) matrix(22.62 -13 -20.8 -14.3 0 0)"><rect width="4" height="2" fill="url(#pT)"/></g>
</g>
<g transform="translate(252 1365)">
<rect class="dR" width="1.6" height="10" transform="matrix(19.14 -11 0 1 0 0)"/>
<rect class="dL" width="1.2" height="10" transform="matrix(-17.6 -12.1 0 1 0 0)"/>
<g transform="matrix(19.14 -11 -17.6 -12.1 0 0)"><rect class="dT" width="1.6" height="1.2"/></g>
</g>
<ellipse cx="252" cy="1350" rx="7" ry="4" fill="#111"/><ellipse cx="252" cy="1347" rx="7" ry="4" fill="#2e2f30" stroke="#111"/>
<ellipse cx="269" cy="1341" rx="7" ry="4" fill="#111"/><ellipse cx="269" cy="1338" rx="7" ry="4" fill="#2e2f30" stroke="#111"/>
<g transform="translate(282.6 1327)">
<rect class="dR" width=".4" height="30" transform="matrix(19.14 -11 0 1 0 0)"/>
<rect class="dL" width="1.2" height="30" transform="matrix(-17.6 -12.1 0 1 0 0)"/>
<rect class="dT" width=".4" height="1.2" transform="matrix(19.14 -11 -17.6 -12.1 0 0)"/>
<g transform="matrix(-17.6 -12.1 0 1 0 0)"><ellipse class="ss" cx=".55" cy="17" rx=".3" ry="6"/></g>
</g>
<text class="lb" x="180" y="1385" text-anchor="middle">X1</text>
<text class="lb" x="289" y="1385" text-anchor="middle">X1</text>

<rect x="768" y="1272" width="268" height="155" rx="12" fill="#fdf8cf"/>
<path d="M768,1284 Q768,1272 780,1272 H825 V1310 Q825,1322 813,1322 H768 Z" fill="#f5c445"/>
<text class="num" x="797" y="1308" text-anchor="middle">5</text>
<g transform="translate(866 1370)">
<rect class="dR" width="4" height="28" transform="matrix(22.62 -13 0 1 0 0)"/>
<rect class="dL" width="2" height="28" transform="matrix(-20.8 -14.3 0 1 0 0)"/>
<g transform="matrix(22.62 -13 -20.8 -14.3 0 0)"><rect class="dT" width="4" height="2"/><rect width="4" height="2" fill="url(#pS)"/></g>
<g transform="translate(0 -3) matrix(22.62 -13 -20.8 -14.3 0 0)"><rect width="4" height="2" fill="url(#pS)"/></g>
<g transform="translate(0 -6) matrix(22.62 -13 -20.8 -14.3 0 0)"><rect width="4" height="2" fill="url(#pT)"/></g>
</g>
<g transform="translate(978 1392)">
<rect class="dR" width="2" height="10" transform="matrix(20.88 -12 0 1 0 0)"/>
<rect class="dL" width="1" height="10" transform="matrix(-19.2 -13.2 0 1 0 0)"/>
<g transform="matrix(20.88 -12 -19.2 -13.2 0 0)"><rect class="dT" width="2" height="1"/><rect width="2" height="1" fill="url(#pS)"/></g>
<g transform="translate(0 -3) matrix(20.88 -12 -19.2 -13.2 0 0)"><rect width="2" height="1" fill="url(#pS)"/></g>
<g transform="translate(0 -5) matrix(20.88 -12 -19.2 -13.2 0 0)"><rect width="2" height="1" fill="url(#pT)"/></g>
</g>
<text class="lb" x="899" y="1410" text-anchor="middle">X1</text>
<text class="lb" x="1014" y="1410" text-anchor="middle">X1</text>
<text class="wm" x="847" y="1300" textLength="219" lengthAdjust="spacingAndGlyphs">so1vietnam.com</text>

<rect class="box" x="937" y="1620" width="88" height="73" rx="8"/>
<g transform="translate(968 1672)">
<rect class="dR" width="2" height="10" transform="matrix(20.88 -12 0 1 0 0)"/>
<rect class="dL" width="1" height="10" transform="matrix(-19.2 -13.2 0 1 0 0)"/>
<g transform="matrix(20.88 -12 -19.2 -13.2 0 0)"><rect class="dT" width="2" height="1"/><rect width="2" height="1" fill="url(#pS)"/></g>
<g transform="translate(0 -3) matrix(20.88 -12 -19.2 -13.2 0 0)"><rect width="2" height="1" fill="url(#pS)"/></g>
<g transform="translate(0 -5) matrix(20.88 -12 -19.2 -13.2 0 0)"><rect width="2" height="1" fill="url(#pT)"/></g>
</g>
<line class="ln" x1="979" y1="1693" x2="979" y2="1758" marker-end="url(#ad)"/>

<!-- bottom-left assembly -->
<polygon class="cL" points="90,1836 134,1834 172,1862 172,1920 90,1920"/>
<polygon class="cR" points="172,1862 297,1790 297,1920 172,1920"/>
<ellipse class="cs" cx="108" cy="1858" rx="9" ry="11"/><ellipse class="cs" cx="140" cy="1868" rx="9" ry="11"/>
<ellipse class="cs" cx="108" cy="1893" rx="9" ry="11"/><ellipse class="cs" cx="140" cy="1903" rx="9" ry="11"/>
<ellipse class="cs" cx="192" cy="1872" rx="9" ry="11"/><ellipse class="cs" cx="215" cy="1859" rx="9" ry="11"/><ellipse class="cs" cx="240" cy="1845" rx="9" ry="11"/><ellipse class="cs" cx="264" cy="1831" rx="9" ry="11"/><ellipse class="cs" cx="286" cy="1818" rx="8" ry="11"/>
<ellipse class="cs" cx="192" cy="1903" rx="9" ry="11"/><ellipse class="cs" cx="215" cy="1890" rx="9" ry="11"/><ellipse class="cs" cx="240" cy="1876" rx="9" ry="11"/><ellipse class="cs" cx="264" cy="1862" rx="9" ry="11"/><ellipse class="cs" cx="286" cy="1849" rx="8" ry="11"/>
<ellipse class="cs" cx="240" cy="1907" rx="9" ry="11"/><ellipse class="cs" cx="264" cy="1893" rx="9" ry="11"/><ellipse class="cs" cx="286" cy="1880" rx="8" ry="11"/>
<g transform="translate(172 1850)">
<rect class="dR" width="6" height="12" transform="matrix(20.88 -12 0 1 0 0)"/>
<rect class="dL" width="2" height="12" transform="matrix(-19.2 -13.2 0 1 0 0)"/>
<g transform="matrix(20.88 -12 -19.2 -13.2 0 0)"><rect class="dT" width="6" height="2"/><rect width="5" height="2" fill="url(#pS)"/></g>
<g transform="translate(0 -3) matrix(20.88 -12 -19.2 -13.2 0 0)"><rect width="5" height="2" fill="url(#pS)"/></g>
<g transform="translate(0 -5) matrix(20.88 -12 -19.2 -13.2 0 0)"><rect width="5" height="2" fill="url(#pT)"/></g>
</g>
<polygon points="252,1740 258,1737 298,1762 298,1792 252,1766" fill="#3c3d3e" stroke="#141414" stroke-width="1.2"/>
<polygon points="252,1740 258,1737 298,1762 292,1765" fill="#555657" stroke="#141414" stroke-width="1"/>
<ellipse cx="272" cy="1768" rx="6" ry="7" fill="#111"/><ellipse cx="288" cy="1778" rx="6" ry="7" fill="#111"/>

<!-- bottom-right assembly -->
<polygon class="cL" points="799,1836 835,1827 877,1856 877,1920 799,1920"/>
<polygon class="cR" points="877,1856 967,1804 1002,1788 1002,1920 877,1920"/>
<polygon class="cT" points="983,1748 990,1745 1004,1756 1004,1800 990,1792"/>
<ellipse class="cs" cx="815" cy="1858" rx="9" ry="11"/><ellipse class="cs" cx="845" cy="1866" rx="9" ry="11"/>
<ellipse class="cs" cx="815" cy="1893" rx="9" ry="11"/><ellipse class="cs" cx="845" cy="1901" rx="9" ry="11"/>
<ellipse class="cs" cx="896" cy="1866" rx="9" ry="11"/><ellipse class="cs" cx="920" cy="1852" rx="9" ry="11"/><ellipse class="cs" cx="944" cy="1838" rx="9" ry="11"/><ellipse class="cs" cx="968" cy="1824" rx="9" ry="11"/><ellipse class="cs" cx="990" cy="1811" rx="8" ry="11"/>
<ellipse class="cs" cx="896" cy="1898" rx="9" ry="11"/><ellipse class="cs" cx="920" cy="1884" rx="9" ry="11"/><ellipse class="cs" cx="944" cy="1870" rx="9" ry="11"/><ellipse class="cs" cx="968" cy="1856" rx="9" ry="11"/><ellipse class="cs" cx="990" cy="1843" rx="8" ry="11"/>
<ellipse class="cs" cx="944" cy="1902" rx="9" ry="11"/><ellipse class="cs" cx="968" cy="1888" rx="9" ry="11"/><ellipse class="cs" cx="990" cy="1875" rx="8" ry="11"/>
<g transform="translate(980 1800)">
<rect class="dR" width="1" height="10" transform="matrix(19.14 -11 0 1 0 0)"/>
<rect class="dL" width="2" height="10" transform="matrix(-17.6 -12.1 0 1 0 0)"/>
<g transform="matrix(19.14 -11 -17.6 -12.1 0 0)"><rect class="dT" width="1" height="2"/><rect width="1" height="2" fill="url(#pS)"/></g>
<g transform="translate(0 -4) matrix(19.14 -11 -17.6 -12.1 0 0)"><rect width="1" height="2" fill="url(#pT)"/></g>
</g>
<g transform="translate(877 1828)">
<rect class="dR" width="4" height="28" transform="matrix(22.62 -13 0 1 0 0)"/>
<rect class="dL" width="2" height="28" transform="matrix(-20.8 -14.3 0 1 0 0)"/>
<g transform="matrix(22.62 -13 -20.8 -14.3 0 0)"><rect class="dT" width="4" height="2"/><rect width="4" height="2" fill="url(#pS)"/></g>
<g transform="translate(0 -3) matrix(22.62 -13 -20.8 -14.3 0 0)"><rect width="4" height="2" fill="url(#pS)"/></g>
<g transform="translate(0 -6) matrix(22.62 -13 -20.8 -14.3 0 0)"><rect width="4" height="2" fill="url(#pT)"/></g>
</g>
</svg>
</body></html>
